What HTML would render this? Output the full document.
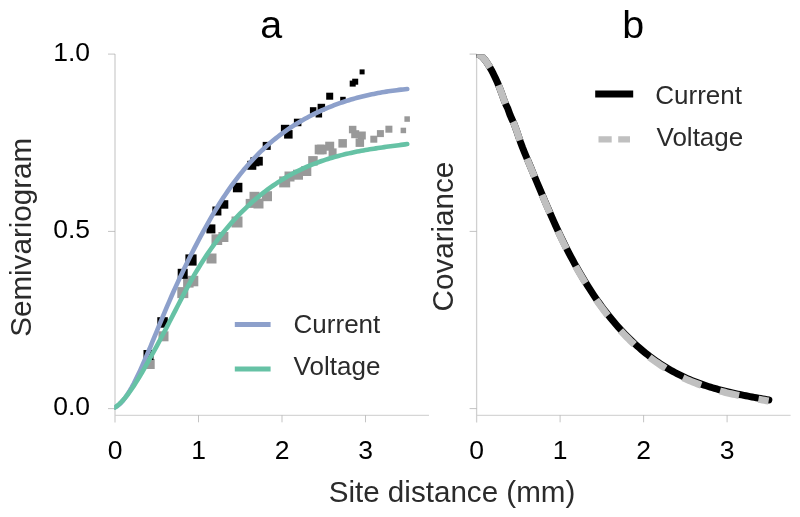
<!DOCTYPE html>
<html lang="en"><head><meta charset="utf-8"><title>Semivariogram and covariance</title>
<style>
html,body{margin:0;padding:0;background:#fff;}
body{width:800px;height:517px;overflow:hidden;}
svg{display:block;filter:blur(0.4px);}
text{font-family:"Liberation Sans",sans-serif;}
.tick{font-size:26.5px;fill:#000;}
.leg{font-size:26px;fill:#2b2b2b;}
.lab{font-size:29.6px;fill:#2b2b2b;}
.title{font-size:39.4px;fill:#000;}
</style></head><body>
<svg width="800" height="517" viewBox="0 0 800 517">
<rect width="800" height="517" fill="#ffffff"/>
<g id="axes-a">
<line x1="115.0" y1="54.10000000000002" x2="115.0" y2="422.5" stroke="#d0d0d0" stroke-width="1.3"/>
<line x1="115.0" y1="415.3" x2="429" y2="415.3" stroke="#cccccc" stroke-width="1"/>
<line x1="198.5" y1="415.3" x2="198.5" y2="422.3" stroke="#aaaaaa" stroke-width="0.7"/>
<line x1="282.0" y1="415.3" x2="282.0" y2="422.3" stroke="#aaaaaa" stroke-width="0.7"/>
<line x1="365.5" y1="415.3" x2="365.5" y2="422.3" stroke="#aaaaaa" stroke-width="0.7"/>
<text x="115.0" y="459.1" text-anchor="middle" class="tick">0</text>
<text x="198.5" y="459.1" text-anchor="middle" class="tick">1</text>
<text x="282.0" y="459.1" text-anchor="middle" class="tick">2</text>
<text x="365.5" y="459.1" text-anchor="middle" class="tick">3</text>
<line x1="108.0" y1="408.6" x2="115.0" y2="408.6" stroke="#aaaaaa" stroke-width="0.7"/>
<text x="90.0" y="415.2" text-anchor="end" class="tick">0.0</text>
<line x1="108.0" y1="231.4" x2="115.0" y2="231.4" stroke="#aaaaaa" stroke-width="0.7"/>
<text x="90.0" y="238.0" text-anchor="end" class="tick">0.5</text>
<line x1="108.0" y1="54.1" x2="115.0" y2="54.1" stroke="#aaaaaa" stroke-width="0.7"/>
<text x="90.0" y="60.7" text-anchor="end" class="tick">1.0</text>
</g>
<g id="axes-b">
<line x1="476.6" y1="54.10000000000002" x2="476.6" y2="422.5" stroke="#d0d0d0" stroke-width="1.3"/>
<line x1="476.6" y1="415.3" x2="790.6" y2="415.3" stroke="#cccccc" stroke-width="1"/>
<line x1="560.1" y1="415.3" x2="560.1" y2="422.3" stroke="#aaaaaa" stroke-width="0.7"/>
<line x1="643.6" y1="415.3" x2="643.6" y2="422.3" stroke="#aaaaaa" stroke-width="0.7"/>
<line x1="727.1" y1="415.3" x2="727.1" y2="422.3" stroke="#aaaaaa" stroke-width="0.7"/>
<text x="476.6" y="459.1" text-anchor="middle" class="tick">0</text>
<text x="560.1" y="459.1" text-anchor="middle" class="tick">1</text>
<text x="643.6" y="459.1" text-anchor="middle" class="tick">2</text>
<text x="727.1" y="459.1" text-anchor="middle" class="tick">3</text>
<line x1="469.6" y1="408.6" x2="476.6" y2="408.6" stroke="#aaaaaa" stroke-width="0.7"/>
<line x1="469.6" y1="231.4" x2="476.6" y2="231.4" stroke="#aaaaaa" stroke-width="0.7"/>
<line x1="469.6" y1="54.1" x2="476.6" y2="54.1" stroke="#aaaaaa" stroke-width="0.7"/>
</g>
<g id="scatter">
<rect x="404.4" y="116.3" width="5.5" height="5.5" fill="#999999"/>
<rect x="400.6" y="127.7" width="5.5" height="5.5" fill="#999999"/>
<rect x="385.4" y="125.7" width="7" height="7" fill="#999999"/>
<rect x="376.9" y="130.1" width="7" height="7" fill="#999999"/>
<rect x="370.3" y="135.7" width="7" height="7" fill="#999999"/>
<rect x="348.9" y="125.8" width="7.5" height="7.5" fill="#999999"/>
<rect x="351.2" y="130.2" width="8" height="8" fill="#999999"/>
<rect x="357.8" y="131.5" width="8" height="8" fill="#999999"/>
<rect x="355.6" y="138.4" width="8.5" height="8.5" fill="#999999"/>
<rect x="338.4" y="139.1" width="8.5" height="8.5" fill="#999999"/>
<rect x="325.2" y="141.7" width="9" height="9" fill="#999999"/>
<rect x="314.7" y="144.7" width="9.6" height="9.6" fill="#999999"/>
<rect x="317.1" y="144.7" width="9.6" height="9.6" fill="#999999"/>
<rect x="328.6" y="148.4" width="8" height="8" fill="#999999"/>
<rect x="308.2" y="156.1" width="9.5" height="9.5" fill="#999999"/>
<rect x="279.2" y="176.4" width="11" height="11" fill="#999999"/>
<rect x="284.5" y="171.5" width="10" height="10" fill="#999999"/>
<rect x="293.0" y="169.7" width="10" height="10" fill="#999999"/>
<rect x="301.3" y="166.0" width="10" height="10" fill="#999999"/>
<rect x="262.0" y="191.2" width="10" height="10" fill="#999999"/>
<rect x="249.5" y="191.8" width="10" height="10" fill="#999999"/>
<rect x="253.5" y="198.5" width="10" height="10" fill="#999999"/>
<rect x="245.7" y="198.9" width="9" height="9" fill="#999999"/>
<rect x="231.5" y="216.5" width="11" height="11" fill="#999999"/>
<rect x="218.4" y="232.0" width="10" height="10" fill="#999999"/>
<rect x="211.5" y="234.3" width="10.7" height="10.7" fill="#999999"/>
<rect x="206.5" y="253.5" width="10" height="10" fill="#999999"/>
<rect x="187.8" y="275.8" width="10.5" height="10.5" fill="#999999"/>
<rect x="183.1" y="277.1" width="10.5" height="10.5" fill="#999999"/>
<rect x="177.3" y="287.1" width="11" height="11" fill="#999999"/>
<rect x="158.5" y="331.3" width="10" height="10" fill="#999999"/>
<rect x="144.7" y="359.0" width="10" height="10" fill="#999999"/>
<rect x="359.6" y="69.4" width="5" height="5" fill="#000000"/>
<rect x="352.2" y="78.7" width="6" height="6" fill="#000000"/>
<rect x="349.7" y="80.6" width="6" height="6" fill="#000000"/>
<rect x="326.2" y="92.7" width="7" height="7" fill="#000000"/>
<rect x="340.2" y="96.8" width="5.5" height="5.5" fill="#000000"/>
<rect x="317.6" y="103.8" width="7.5" height="7.5" fill="#000000"/>
<rect x="309.9" y="107.2" width="6.5" height="6.5" fill="#000000"/>
<rect x="315.6" y="111.0" width="6.5" height="6.5" fill="#000000"/>
<rect x="293.9" y="118.7" width="7.5" height="7.5" fill="#000000"/>
<rect x="280.9" y="124.8" width="8.5" height="8.5" fill="#000000"/>
<rect x="284.1" y="130.1" width="8.5" height="8.5" fill="#000000"/>
<rect x="262.7" y="141.9" width="8" height="8" fill="#000000"/>
<rect x="254.0" y="156.8" width="8.8" height="8.8" fill="#000000"/>
<rect x="247.3" y="160.8" width="9" height="9" fill="#000000"/>
<rect x="250.4" y="157.3" width="9" height="9" fill="#000000"/>
<rect x="232.9" y="182.8" width="9.5" height="9.5" fill="#000000"/>
<rect x="219.8" y="200.2" width="8.5" height="8.5" fill="#000000"/>
<rect x="212.4" y="206.5" width="9" height="9" fill="#000000"/>
<rect x="206.4" y="224.4" width="9" height="9" fill="#000000"/>
<rect x="185.4" y="254.4" width="11.2" height="11.2" fill="#000000"/>
<rect x="177.7" y="268.8" width="10" height="10" fill="#000000"/>
<rect x="157.3" y="317.2" width="10.5" height="10.5" fill="#000000"/>
<rect x="143.5" y="350.0" width="10" height="10" fill="#000000"/>
</g>
<clipPath id="ca"><rect x="114.3" y="40" width="320" height="380"/></clipPath>
<g fill="none" stroke-width="4.6" stroke-linecap="round" stroke-linejoin="round" clip-path="url(#ca)">
<path d="M115.00,407.34 L117.09,406.14 L119.17,404.52 L121.26,402.50 L123.35,400.12 L125.44,397.38 L127.53,394.33 L129.61,390.97 L131.70,387.35 L133.79,383.48 L135.88,379.38 L137.96,375.09 L140.05,370.63 L142.14,366.02 L144.22,361.28 L146.31,356.44 L148.40,351.52 L150.49,346.53 L152.57,341.49 L154.66,336.41 L156.75,331.31 L158.84,326.21 L160.93,321.13 L163.01,316.08 L165.10,311.08 L167.19,306.15 L169.28,301.29 L171.36,296.51 L173.45,291.80 L175.54,287.16 L177.62,282.59 L179.71,278.09 L181.80,273.66 L183.89,269.29 L185.98,264.98 L188.06,260.73 L190.15,256.55 L192.24,252.42 L194.32,248.34 L196.41,244.32 L198.50,240.36 L200.59,236.44 L202.68,232.58 L204.76,228.77 L206.85,225.02 L208.94,221.33 L211.03,217.70 L213.11,214.14 L215.20,210.63 L217.29,207.20 L219.38,203.83 L221.46,200.54 L223.55,197.31 L225.64,194.16 L227.73,191.09 L229.81,188.09 L231.90,185.17 L233.99,182.31 L236.08,179.53 L238.16,176.82 L240.25,174.18 L242.34,171.60 L244.43,169.09 L246.51,166.64 L248.60,164.26 L250.69,161.93 L252.78,159.67 L254.86,157.47 L256.95,155.32 L259.04,153.23 L261.12,151.20 L263.21,149.22 L265.30,147.29 L267.39,145.41 L269.48,143.58 L271.56,141.81 L273.65,140.07 L275.74,138.39 L277.83,136.75 L279.91,135.15 L282.00,133.59 L284.09,132.07 L286.18,130.60 L288.26,129.16 L290.35,127.76 L292.44,126.39 L294.52,125.05 L296.61,123.75 L298.70,122.48 L300.79,121.24 L302.88,120.03 L304.96,118.85 L307.05,117.70 L309.14,116.58 L311.23,115.49 L313.31,114.42 L315.40,113.38 L317.49,112.37 L319.58,111.39 L321.66,110.43 L323.75,109.49 L325.84,108.59 L327.93,107.71 L330.01,106.85 L332.10,106.02 L334.19,105.21 L336.28,104.43 L338.36,103.66 L340.45,102.93 L342.54,102.21 L344.62,101.51 L346.71,100.84 L348.80,100.19 L350.89,99.56 L352.98,98.95 L355.06,98.36 L357.15,97.79 L359.24,97.24 L361.33,96.71 L363.41,96.19 L365.50,95.70 L367.59,95.22 L369.68,94.76 L371.76,94.31 L373.85,93.89 L375.94,93.47 L378.03,93.08 L380.11,92.70 L382.20,92.33 L384.29,91.98 L386.38,91.64 L388.46,91.32 L390.55,91.01 L392.64,90.71 L394.73,90.43 L396.81,90.16 L398.90,89.90 L400.99,89.65 L403.07,89.41 L405.16,89.18 L407.25,88.96" stroke="#8da0cb"/>
<path d="M115.00,407.45 L117.09,405.92 L119.17,404.13 L121.26,402.11 L123.35,399.86 L125.44,397.41 L127.53,394.77 L129.61,391.95 L131.70,388.97 L133.79,385.85 L135.88,382.60 L137.96,379.23 L140.05,375.77 L142.14,372.22 L144.22,368.61 L146.31,364.94 L148.40,361.23 L150.49,357.49 L152.57,353.71 L154.66,349.89 L156.75,346.04 L158.84,342.16 L160.93,338.24 L163.01,334.30 L165.10,330.32 L167.19,326.32 L169.28,322.29 L171.36,318.24 L173.45,314.17 L175.54,310.08 L177.62,306.01 L179.71,301.94 L181.80,297.91 L183.89,293.92 L185.98,289.98 L188.06,286.10 L190.15,282.30 L192.24,278.58 L194.32,274.95 L196.41,271.41 L198.50,267.94 L200.59,264.56 L202.68,261.25 L204.76,258.02 L206.85,254.87 L208.94,251.79 L211.03,248.78 L213.11,245.85 L215.20,242.98 L217.29,240.18 L219.38,237.45 L221.46,234.78 L223.55,232.18 L225.64,229.64 L227.73,227.16 L229.81,224.74 L231.90,222.37 L233.99,220.06 L236.08,217.81 L238.16,215.61 L240.25,213.46 L242.34,211.36 L244.43,209.31 L246.51,207.31 L248.60,205.35 L250.69,203.44 L252.78,201.57 L254.86,199.75 L256.95,197.97 L259.04,196.24 L261.12,194.54 L263.21,192.89 L265.30,191.28 L267.39,189.71 L269.48,188.18 L271.56,186.69 L273.65,185.24 L275.74,183.82 L277.83,182.44 L279.91,181.10 L282.00,179.80 L284.09,178.53 L286.18,177.29 L288.26,176.09 L290.35,174.93 L292.44,173.79 L294.52,172.69 L296.61,171.62 L298.70,170.59 L300.79,169.58 L302.88,168.60 L304.96,167.65 L307.05,166.73 L309.14,165.84 L311.23,164.97 L313.31,164.13 L315.40,163.32 L317.49,162.54 L319.58,161.77 L321.66,161.04 L323.75,160.32 L325.84,159.63 L327.93,158.96 L330.01,158.32 L332.10,157.69 L334.19,157.09 L336.28,156.50 L338.36,155.93 L340.45,155.39 L342.54,154.86 L344.62,154.35 L346.71,153.85 L348.80,153.37 L350.89,152.91 L352.98,152.46 L355.06,152.03 L357.15,151.61 L359.24,151.21 L361.33,150.81 L363.41,150.43 L365.50,150.06 L367.59,149.70 L369.68,149.35 L371.76,149.01 L373.85,148.68 L375.94,148.36 L378.03,148.04 L380.11,147.73 L382.20,147.43 L384.29,147.14 L386.38,146.84 L388.46,146.56 L390.55,146.28 L392.64,146.00 L394.73,145.72 L396.81,145.45 L398.90,145.17 L400.99,144.90 L403.07,144.63 L405.16,144.36 L407.25,144.08" stroke="#66c2a5"/>
</g>
<clipPath id="cb"><rect x="476.2" y="54.4" width="330" height="365"/></clipPath>
<g fill="none" stroke-linejoin="round" clip-path="url(#cb)">
<path d="M476.60,54.10 L478.69,54.50 L480.78,55.66 L482.86,57.48 L484.95,59.89 L487.04,62.79 L489.12,66.10 L491.21,69.73 L493.30,73.67 L495.39,77.95 L497.48,82.61 L499.56,87.70 L501.65,93.26 L503.74,99.19 L505.83,104.49 L507.91,108.82 L510.00,114.78 L512.09,119.52 L514.18,124.11 L516.26,129.71 L518.35,135.84 L520.44,141.91 L522.52,147.50 L524.61,152.71 L526.70,157.73 L528.79,162.71 L530.88,167.71 L532.96,172.72 L535.05,177.73 L537.14,182.73 L539.23,187.72 L541.31,192.69 L543.40,197.63 L545.49,202.53 L547.58,207.39 L549.66,212.19 L551.75,216.94 L553.84,221.62 L555.93,226.22 L558.01,230.75 L560.10,235.19 L562.19,239.53 L564.27,243.79 L566.36,247.97 L568.45,252.05 L570.54,256.06 L572.62,259.98 L574.71,263.81 L576.80,267.57 L578.89,271.24 L580.98,274.84 L583.06,278.36 L585.15,281.80 L587.24,285.17 L589.33,288.46 L591.41,291.68 L593.50,294.83 L595.59,297.91 L597.68,300.91 L599.76,303.85 L601.85,306.72 L603.94,309.52 L606.03,312.25 L608.11,314.92 L610.20,317.53 L612.29,320.08 L614.38,322.56 L616.46,324.98 L618.55,327.35 L620.64,329.65 L622.73,331.90 L624.81,334.10 L626.90,336.24 L628.99,338.32 L631.08,340.35 L633.16,342.34 L635.25,344.27 L637.34,346.15 L639.43,347.98 L641.51,349.77 L643.60,351.51 L645.69,353.20 L647.78,354.85 L649.86,356.45 L651.95,358.01 L654.04,359.52 L656.12,361.00 L658.21,362.43 L660.30,363.82 L662.39,365.18 L664.48,366.49 L666.56,367.76 L668.65,369.00 L670.74,370.20 L672.83,371.37 L674.91,372.50 L677.00,373.60 L679.09,374.66 L681.18,375.69 L683.26,376.69 L685.35,377.66 L687.44,378.59 L689.53,379.50 L691.61,380.38 L693.70,381.23 L695.79,382.06 L697.88,382.86 L699.96,383.63 L702.05,384.38 L704.14,385.10 L706.23,385.80 L708.31,386.48 L710.40,387.14 L712.49,387.77 L714.58,388.39 L716.66,388.98 L718.75,389.56 L720.84,390.12 L722.93,390.67 L725.01,391.20 L727.10,391.71 L729.19,392.21 L731.28,392.69 L733.36,393.16 L735.45,393.62 L737.54,394.07 L739.62,394.51 L741.71,394.94 L743.80,395.36 L745.89,395.77 L747.98,396.18 L750.06,396.57 L752.15,396.97 L754.24,397.35 L756.33,397.73 L758.41,398.11 L760.50,398.49 L762.59,398.87 L764.67,399.24 L766.76,399.61 L768.85,399.99" stroke="#000000" stroke-width="7" stroke-linecap="round"/>
<path d="M476.60,54.10 L478.69,54.50 L480.78,55.66 L482.86,57.48 L484.95,59.89 L487.04,62.79 L489.12,66.10 L491.21,69.73 L493.30,73.67 L495.39,77.95 L497.48,82.61 L499.56,87.70 L501.65,93.26 L503.74,99.19 L505.83,104.49 L507.91,108.82 L510.00,114.78 L512.09,119.52 L514.18,124.11 L516.26,129.71 L518.35,135.84 L520.42,141.91 L522.50,147.51 L524.57,152.73 L526.65,157.75 L528.72,162.74 L530.80,167.74 L532.87,172.76 L534.95,177.77 L537.02,182.78 L539.10,187.77 L541.17,192.75 L543.25,197.69 L545.32,202.60 L547.40,207.46 L549.47,212.27 L551.55,217.03 L553.62,221.71 L555.70,226.33 L557.78,230.86 L559.85,235.30 L561.93,239.66 L564.00,243.93 L566.08,248.11 L568.16,252.20 L570.23,256.22 L572.31,260.14 L574.39,263.99 L576.46,267.76 L578.54,271.44 L580.62,275.05 L582.70,278.58 L584.77,282.03 L586.85,285.41 L588.93,288.72 L591.01,291.95 L593.09,295.11 L595.17,298.19 L597.25,301.21 L599.33,304.16 L601.41,307.04 L603.49,309.86 L605.57,312.61 L607.65,315.29 L609.73,317.91 L611.81,320.47 L613.89,322.97 L615.98,325.41 L618.06,327.79 L620.14,330.11 L622.22,332.37 L624.31,334.58 L626.39,336.74 L628.48,338.84 L630.56,340.89 L632.65,342.89 L634.73,344.84 L636.82,346.73 L638.90,348.58 L640.99,350.39 L643.08,352.14 L645.16,353.85 L647.25,355.52 L649.34,357.14 L651.43,358.72 L653.52,360.25 L655.61,361.74 L657.70,363.19 L659.79,364.60 L661.88,365.98 L663.97,367.31 L666.06,368.60 L668.15,369.86 L670.24,371.08 L672.33,372.26 L674.43,373.41 L676.52,374.53 L678.61,375.61 L680.71,376.66 L682.80,377.67 L684.89,378.66 L686.99,379.60 L689.09,380.51 L691.19,381.40 L693.29,382.25 L695.39,383.08 L697.49,383.89 L699.59,384.66 L701.68,385.41 L703.78,386.14 L705.88,386.85 L707.98,387.53 L710.07,388.19 L712.17,388.83 L714.27,389.44 L716.36,390.04 L718.46,390.62 L720.56,391.19 L722.65,391.73 L724.75,392.26 L726.84,392.78 L728.94,393.28 L731.03,393.77 L733.12,394.24 L735.22,394.70 L737.31,395.15 L739.40,395.59 L741.49,396.02 L743.59,396.44 L745.68,396.85 L747.77,397.26 L749.86,397.65 L751.95,398.05 L754.04,398.43 L756.13,398.82 L758.22,399.20 L760.31,399.57 L762.39,399.95 L764.48,400.32 L766.57,400.70 L768.66,401.07" stroke="#c0c0c0" stroke-width="7" stroke-dasharray="19.68 19.68"/>
</g>
<g id="legend-a">
<line x1="234.8" y1="324.5" x2="270.6" y2="324.5" stroke="#8da0cb" stroke-width="4.8"/>
<line x1="234.8" y1="369" x2="270.6" y2="369" stroke="#66c2a5" stroke-width="4.8"/>
<text x="293.6" y="333.4" class="leg">Current</text>
<text x="293.6" y="374.7" class="leg">Voltage</text>
</g>
<g id="legend-b">
<line x1="598.7" y1="94.1" x2="629.7" y2="94.1" stroke="#000" stroke-width="7" stroke-linecap="square"/>
<line x1="598.5" y1="139.3" x2="630" y2="139.3" stroke="#c0c0c0" stroke-width="6.3" stroke-dasharray="13.2 6.5"/>
<text x="655.3" y="103.7" class="leg">Current</text>
<text x="656.5" y="145.8" class="leg">Voltage</text>
</g>
<text x="271.3" y="37.8" text-anchor="middle" class="title">a</text>
<text x="633.2" y="37.7" text-anchor="middle" class="title">b</text>
<text x="452" y="501.5" text-anchor="middle" class="lab">Site distance (mm)</text>
<text transform="translate(30.7,237.3) rotate(-90)" text-anchor="middle" class="lab">Semivariogram</text>
<text transform="translate(453.3,236.6) rotate(-90)" text-anchor="middle" class="lab">Covariance</text>
</svg>
</body></html>
